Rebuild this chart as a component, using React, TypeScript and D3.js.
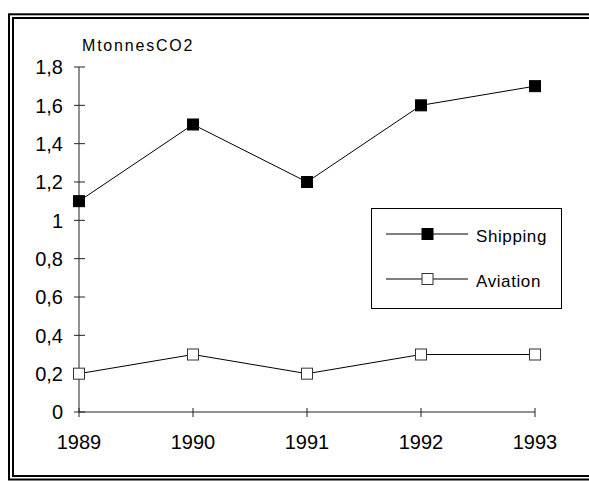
import React from "react";
import * as d3 from "d3";

const years = ["1989", "1990", "1991", "1992", "1993"];
const shipping = [1.1, 1.5, 1.2, 1.6, 1.7];
const aviation = [0.2, 0.3, 0.2, 0.3, 0.3];
const yTicks = [0, 0.2, 0.4, 0.6, 0.8, 1, 1.2, 1.4, 1.6, 1.8];
const yTitle = "MtonnesCO2";
const seriesNames = ["Shipping", "Aviation"];

const W = 589;
const H = 481;
const FONT = "'Liberation Sans', Arial, sans-serif";

export default function App() {
  const x = d3.scalePoint<string>().domain(years).range([79, 535]);
  const y = d3.scaleLinear().domain([0, 1.8]).range([412, 67]);
  const line = d3
    .line<number>()
    .x((_, i) => x(years[i]) as number)
    .y((d) => y(d));
  const fmt = (v: number) => String(+v.toFixed(1)).replace(".", ",");
  const ms = 11;

  const series = [
    { name: seriesNames[0], values: shipping, fill: "#000", stroke: "#000" },
    { name: seriesNames[1], values: aviation, fill: "#fff", stroke: "#333" },
  ];

  return (
    <div style={{ position: "absolute", left: 0, top: 0 }}>
      <svg width={W} height={H} style={{ display: "block", background: "#fff" }}>
        {/* double border */}
        <rect x={9} y={14.3} width={620} height={465.2} fill="none" stroke="#000" strokeWidth={2} />
        <rect x={13} y={18} width={620} height={458} fill="none" stroke="#000" strokeWidth={2} />

        {/* y title */}
        <text x={82} y={50.7} fontFamily={FONT} fontSize={16} letterSpacing={1.8} fill="#000">
          {yTitle}
        </text>

        {/* y axis */}
        <line x1={79} x2={79} y1={y(0)} y2={y(1.8)} stroke="#222" strokeWidth={1} />
        {yTicks.map((t) => (
          <g key={t}>
            <line x1={74} x2={85} y1={y(t)} y2={y(t)} stroke="#222" strokeWidth={1} />
            <text
              x={63}
              y={y(t)}
              dy="0.36em"
              textAnchor="end"
              fontFamily={FONT}
              fontSize={20}
              fill="#000"
            >
              {fmt(t)}
            </text>
          </g>
        ))}

        {/* x axis */}
        <line x1={x(years[0])} x2={x(years[years.length - 1])} y1={y(0)} y2={y(0)} stroke="#222" strokeWidth={1} />
        {years.map((yr) => (
          <g key={yr}>
            <line x1={x(yr)} x2={x(yr)} y1={y(0) - 4} y2={y(0) + 5} stroke="#222" strokeWidth={1} />
            <text
              x={x(yr)}
              y={449.3}
              textAnchor="middle"
              fontFamily={FONT}
              fontSize={20}
              fill="#000"
            >
              {yr}
            </text>
          </g>
        ))}

        {/* series */}
        {series.map((s) => (
          <g key={s.name}>
            <path d={line(s.values) || ""} fill="none" stroke="#000" strokeWidth={1} />
            {s.values.map((v, i) => (
              <rect
                key={i}
                x={(x(years[i]) as number) - ms / 2}
                y={y(v) - ms / 2}
                width={ms}
                height={ms}
                fill={s.fill}
                stroke={s.stroke}
                strokeWidth={1}
              />
            ))}
          </g>
        ))}

        {/* legend */}
        <rect x={371.5} y={208.5} width={190} height={100} fill="#fff" stroke="#000" strokeWidth={1} />
        {series.map((s, i) => {
          const ly = 234 + i * 45;
          return (
            <g key={s.name}>
              <line x1={386} x2={468} y1={ly} y2={ly} stroke="#000" strokeWidth={1} />
              <rect x={427.5 - ms / 2} y={ly - ms / 2} width={ms} height={ms} fill={s.fill} stroke={s.stroke} strokeWidth={1} />
              <text x={476} y={ly + 7.5} fontFamily={FONT} fontSize={17} letterSpacing={0.6} fill="#000">
                {s.name}
              </text>
            </g>
          );
        })}
      </svg>
    </div>
  );
}
